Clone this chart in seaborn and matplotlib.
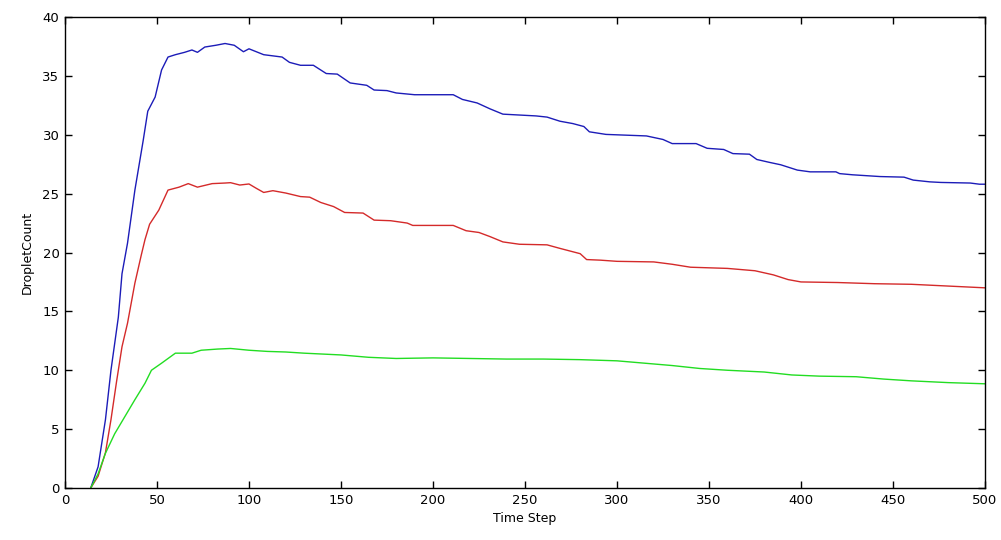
"""
Droplet count over time - three runs, MATLAB-style line plot.
"""

import matplotlib
matplotlib.use("Agg")
import matplotlib.pyplot as plt
import numpy as np
import pandas as pd
import seaborn as sns

# values
time_blue = [14, 18, 22, 25, 29, 31, 34, 38, 42.5, 45, 49, 52.5, 56, 60, 65, 69, 72, 76,
             82, 87, 92, 97, 100, 108, 118, 122, 128, 135, 142, 148, 155, 164, 168, 175,
             180, 190, 211, 216, 224, 231, 238, 256, 262, 269, 276, 282, 285, 294, 316,
             325, 330, 343, 349, 358, 363, 372, 376, 383, 389, 398, 405, 419, 421, 428,
             443, 456, 461, 470, 476, 492, 497, 500]
count_blue = [0, 1.8, 5.8, 10.0, 14.5, 18.2, 20.8, 25.3, 29.5, 32.0, 33.2, 35.5, 36.6, 36.8,
              37.0, 37.2, 37.0, 37.45, 37.6, 37.75, 37.6, 37.05, 37.3, 36.8, 36.6, 36.15,
              35.9, 35.9, 35.2, 35.15, 34.4, 34.2, 33.8, 33.75, 33.55, 33.4, 33.4, 33.0,
              32.7, 32.2, 31.75, 31.6, 31.5, 31.15, 30.95, 30.7, 30.25, 30.03, 29.9, 29.6,
              29.25, 29.25, 28.85, 28.75, 28.4, 28.35, 27.9, 27.65, 27.45, 27.0, 26.85,
              26.85, 26.7, 26.6, 26.45, 26.4, 26.15, 26.0, 25.95, 25.9, 25.8, 25.8]

time_red = [14, 18, 22, 25, 28, 31, 34, 38, 41.5, 43.5, 46, 51, 56, 62, 67, 72, 80, 87, 90,
            95, 100, 104, 108, 113, 120, 128, 133, 139, 146, 152, 162, 168, 177, 186, 189,
            211, 218, 225, 231, 238, 247, 262, 269, 280, 283.5, 291, 300, 320, 330, 340,
            360, 375, 385, 393, 400, 420, 440, 460, 480, 500]
count_red = [0, 1.0, 3.0, 5.8, 9.0, 12.0, 14.0, 17.4, 19.8, 21.1, 22.4, 23.6, 25.3, 25.55,
             25.85, 25.55, 25.85, 25.9, 25.93, 25.73, 25.82, 25.45, 25.1, 25.25, 25.05,
             24.75, 24.7, 24.25, 23.9, 23.4, 23.35, 22.75, 22.7, 22.5, 22.3, 22.3, 21.85,
             21.7, 21.35, 20.9, 20.7, 20.65, 20.35, 19.9, 19.4, 19.35, 19.25, 19.2, 19.0,
             18.75, 18.65, 18.45, 18.1, 17.7, 17.5, 17.45, 17.35, 17.3, 17.15, 17.0]

time_green = [14, 18, 22, 27, 32.5, 38, 43.5, 47, 52.5, 60, 69, 74, 83, 90, 100, 110, 120,
              130, 150, 165, 180, 200, 220, 240, 260, 280, 300, 315, 330, 345, 360, 380,
              395, 410, 430, 445, 460, 480, 500]
count_green = [0, 1.2, 2.95, 4.6, 6.05, 7.5, 8.9, 10.0, 10.6, 11.45, 11.45, 11.7, 11.8,
               11.85, 11.7, 11.6, 11.55, 11.45, 11.3, 11.1, 11.0, 11.05, 11.0, 10.95, 10.95,
               10.9, 10.8, 10.6, 10.4, 10.15, 10.0, 9.85, 9.6, 9.5, 9.45, 9.25, 9.1, 8.95,
               8.85]

runs = ["blue", "red", "green"]
colours = {"blue": "#1c1cb8", "red": "#d42a2a", "green": "#22dd22"}

df = pd.concat([
    pd.DataFrame({"Time Step": time_blue, "DropletCount": count_blue, "run": "blue"}),
    pd.DataFrame({"Time Step": time_red, "DropletCount": count_red, "run": "red"}),
    pd.DataFrame({"Time Step": time_green, "DropletCount": count_green, "run": "green"}),
], ignore_index=True)

sns.set_style("ticks")
plt.rcParams["font.family"] = ["DejaVu Sans"]

fig = plt.figure(figsize=(10.01, 5.40), dpi=100)
ax = fig.add_axes([0.0649, 0.0963, 0.9191, 0.8722])

sns.lineplot(data=df, x="Time Step", y="DropletCount", hue="run", hue_order=runs,
             palette=colours, linewidth=1.0, legend=False, estimator=None, sort=False, ax=ax)

ax.set_xlim(0, 500)
ax.set_ylim(0, 40)
ax.set_xticks(np.arange(0, 501, 50))
ax.set_yticks(np.arange(0, 41, 5))
ax.tick_params(direction="in", length=5, width=1, top=True, right=True,
               labelsize=9.5, colors="black", labelcolor="black", pad=4)
for side in ["top", "right", "bottom", "left"]:
    ax.spines[side].set_visible(True)
    ax.spines[side].set_linewidth(1.0)
    ax.spines[side].set_color("black")

ax.set_xlabel("Time Step", fontsize=9, labelpad=4, color="black")
ax.set_ylabel("DropletCount", fontsize=9, labelpad=6, color="black")

fig.savefig("out.png", dpi=100, facecolor="white")
